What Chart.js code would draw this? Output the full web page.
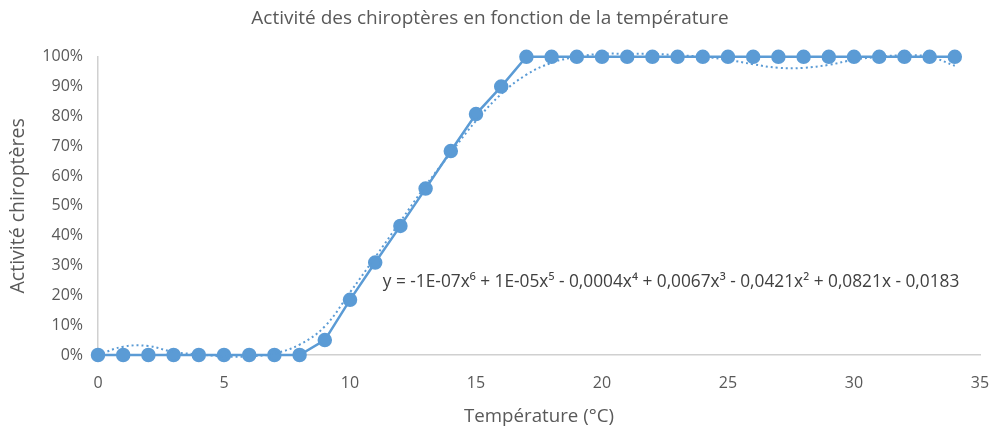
<!DOCTYPE html>
<html>
<head>
<meta charset="utf-8">
<script src="https://cdn.jsdelivr.net/npm/chart.js@4/dist/chart.umd.min.js"></script>
<style>
  html, body { margin: 0; padding: 0; background: #fff; }
  #wrap { width: 992px; height: 428px; }
</style>
</head>
<body>
<div id="wrap"><canvas id="chiro_canvas"></canvas></div>
<script>
// temperatures (°C)
const temps = [0, 1, 2, 3, 4, 5, 6, 7, 8, 9, 10, 11, 12, 13, 14, 15, 16, 17,
  18, 19, 20, 21, 22, 23, 24, 25, 26, 27, 28, 29, 30, 31, 32, 33, 34];
// activité (%)
const activity = [0, 0, 0, 0, 0, 0, 0, 0, 0, 5, 18.5, 31, 43.3, 55.8, 68.4, 80.8, 90, 100,
  100, 100, 100, 100, 100, 100, 100, 100, 100, 100, 100, 100, 100, 100, 100, 100, 100];
// courbe de tendance polynomiale
const trend = [0, 2.8, 3, 1, 0.2, -0.5, -0.5, 0.5, 3.5, 9.6, 21, 32.8, 44.8, 56.8, 67.8, 78.5, 87.5, 94,
  98, 100, 101, 101, 101, 100.5, 100, 99, 97.5, 96.3, 96.3, 97.3, 99, 100, 100.5, 100, 97];
const equation = 'y = -1E-07x\u2076 + 1E-05x\u2075 - 0,0004x\u2074 + 0,0067x\u00B3 - 0,0421x\u00B2 + 0,0821x - 0,0183';

const blue = '#5B9BD5';
const grey = '#595959';
const fontFam = '"Open Sans", Lato, sans-serif';

const equationLabel = {
    id: 'equationLabel',
    afterDatasetsDraw(chart) {
        const ctx = chart.ctx;
        const x = chart.scales.x.getPixelForValue(11.3);
        const y = chart.scales.y.getPixelForValue(24.5);
        ctx.save();
        ctx.font = '17.3px ' + fontFam;
        ctx.fillStyle = '#404040';
        ctx.textAlign = 'left';
        ctx.textBaseline = 'middle';
        ctx.fillText(equation, x, y);
        ctx.restore();
    }
};

const ctx = document.getElementById('chiro_canvas');
new Chart(ctx.getContext('2d'), {
    type: 'line',
    data: {
        datasets: [{
            label: 'Activité',
            data: temps.map((t, i) => ({ x: t, y: activity[i] })),
            borderColor: blue,
            backgroundColor: blue,
            borderWidth: 2.5,
            pointRadius: 6,
            pointBackgroundColor: blue,
            pointBorderColor: blue,
            tension: 0,
            clip: false,
            order: 2
        }, {
            label: 'Tendance',
            data: temps.map((t, i) => ({ x: t, y: trend[i] })),
            borderColor: blue,
            borderWidth: 2,
            borderDash: [2, 3],
            pointRadius: 0,
            tension: 0.4,
            fill: false,
            clip: false,
            order: 1
        }]
    },
    options: {
        responsive: true,
        maintainAspectRatio: false,
        animation: false,
        layout: { padding: { left: 0, right: 12, top: 0, bottom: 0 } },
        plugins: {
            legend: { display: false },
            tooltip: { enabled: false },
            title: {
                display: true,
                text: 'Activité des chiroptères en fonction de la température',
                color: grey,
                font: { family: fontFam, size: 19, weight: 'normal' },
                padding: { top: 7, bottom: 27 }
            }
        },
        scales: {
            x: {
                type: 'linear',
                min: 0,
                max: 35,
                grid: { display: false },
                border: { display: true, color: '#D0D0D0', width: 1.5 },
                ticks: {
                    stepSize: 5,
                    color: grey,
                    padding: 11,
                    font: { family: fontFam, size: 16 }
                },
                title: {
                    display: true,
                    text: 'Température (°C)',
                    color: grey,
                    font: { family: fontFam, size: 18.7 },
                    padding: { top: 4, bottom: 0 }
                },
                afterFit(scale) {
                    scale.height = 73;
                    scale.paddingLeft = 0;
                    scale.paddingRight = 0;
                }
            },
            y: {
                min: 0,
                max: 100,
                grid: { display: false },
                border: { display: true, color: '#D0D0D0', width: 1.5 },
                ticks: {
                    stepSize: 10,
                    color: grey,
                    padding: 7,
                    font: { family: fontFam, size: 16 },
                    callback: v => v + '%'
                },
                title: {
                    display: true,
                    text: 'Activité chiroptères',
                    color: grey,
                    font: { family: fontFam, size: 19.5 },
                    padding: { top: 7, bottom: 0 }
                },
                afterFit(scale) {
                    scale.width = 98;
                    scale.paddingTop = 0;
                    scale.paddingBottom = 0;
                }
            }
        }
    },
    plugins: [equationLabel]
});
</script>
</body>
</html>
